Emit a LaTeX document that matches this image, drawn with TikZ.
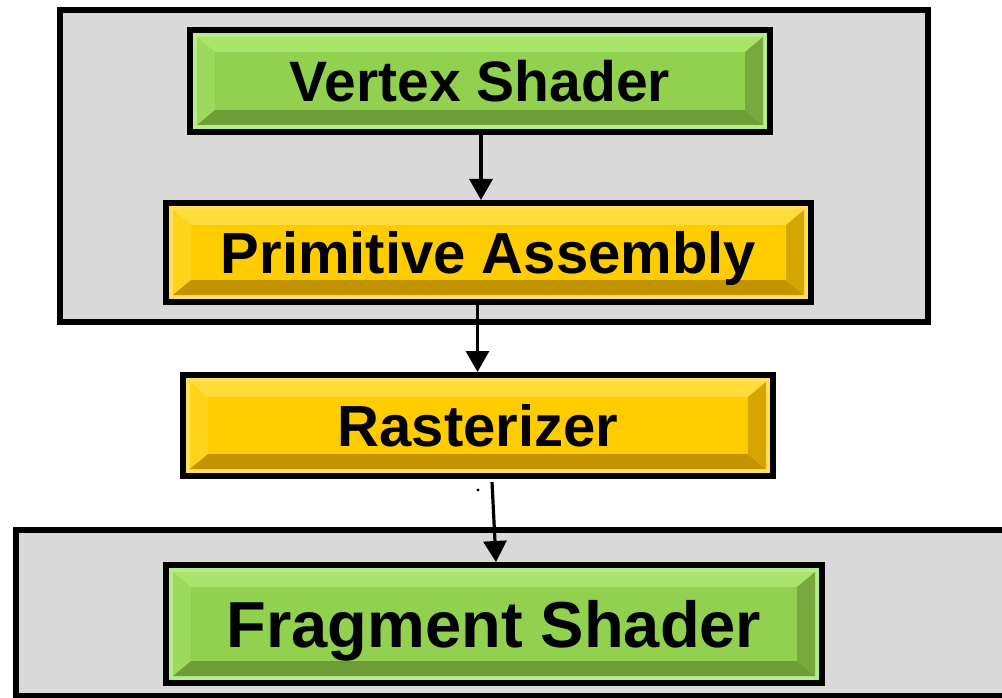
\documentclass[tikz,border=0pt]{standalone}
\usepackage{fontspec}
\setmainfont{Liberation Sans}
\usetikzlibrary{arrows.meta}
\definecolor{gbase}{HTML}{92D050}
\definecolor{grim}{HTML}{B8EC88}
\definecolor{gtop}{HTML}{A9E46C}
\definecolor{gleft}{HTML}{9CDA5C}
\definecolor{gbot}{HTML}{6E9E38}
\definecolor{gright}{HTML}{78A83E}
\definecolor{ybase}{HTML}{FFCC00}
\definecolor{yrim}{HTML}{FFE05A}
\definecolor{ytop}{HTML}{FFDC3A}
\definecolor{yleft}{HTML}{FFD21C}
\definecolor{ybot}{HTML}{C49400}
\definecolor{yright}{HTML}{D6A600}
\definecolor{panel}{HTML}{D9D9D9}
\tikzset{
  panelbox/.style={draw=black, line width=6pt, fill=panel},
  bevelbox/.style n args={6}{rectangle, draw=black, line width=6pt, fill=#2, inner sep=0pt,
    font=\bfseries, text depth=0pt,
    path picture={
      \path (path picture bounding box.north west) coordinate (pA)
            (path picture bounding box.north east) coordinate (pB)
            (path picture bounding box.south east) coordinate (pC)
            (path picture bounding box.south west) coordinate (pD);
      \fill[#3] ([shift={(7pt,-7pt)}]pA) -- ([shift={(-7pt,-7pt)}]pB) -- ([shift={(-25pt,-22pt)}]pB) -- ([shift={(25pt,-22pt)}]pA) -- cycle;
      \fill[#4] ([shift={(7pt,-7pt)}]pA) -- ([shift={(25pt,-22pt)}]pA) -- ([shift={(25pt,22pt)}]pD) -- ([shift={(7pt,7pt)}]pD) -- cycle;
      \fill[#5] ([shift={(7pt,7pt)}]pD) -- ([shift={(25pt,22pt)}]pD) -- ([shift={(-25pt,22pt)}]pC) -- ([shift={(-7pt,7pt)}]pC) -- cycle;
      \fill[#6] ([shift={(-7pt,-7pt)}]pB) -- ([shift={(-7pt,7pt)}]pC) -- ([shift={(-25pt,22pt)}]pC) -- ([shift={(-25pt,-22pt)}]pB) -- cycle;
      \fill[#1] ([shift={(25pt,-22pt)}]pA) rectangle ([shift={(-25pt,22pt)}]pC);
    }},
  greenbox/.style={bevelbox={gbase}{grim}{gtop}{gleft}{gbot}{gright}},
  yellowbox/.style={bevelbox={ybase}{yrim}{ytop}{yleft}{ybot}{yright}},
  arr/.style={line width=3.2pt, -{Triangle[width=23pt,length=21pt]}}
}
\begin{document}
\begin{tikzpicture}[x=1pt,y=-1pt]
\useasboundingbox (0,0) rectangle (1002,698);
\begin{scope}
\clip (0,0) rectangle (1002,698);
\draw[panelbox] (60,10) rectangle (928,322);
\draw[panelbox] (16,530) rectangle (1005,696);
\end{scope}
\node[greenbox, minimum width=580pt, minimum height=102pt] (vs) at (480,81)
  {\fontsize{57}{60}\selectfont Vertex Shader};
\node[yellowbox, minimum width=645pt, minimum height=99pt] (pa) at (488.5,252.5)
  {\fontsize{58}{60}\selectfont Primitive Assembly};
\node[yellowbox, minimum width=590pt, minimum height=101pt] (rz) at (478,425.5)
  {\fontsize{58}{60}\selectfont Rasterizer};
\node[greenbox, minimum width=656pt, minimum height=118pt] (fs) at (494,624)
  {\fontsize{65}{68}\selectfont Fragment Shader};
\coordinate (a1) at (481,0);
\coordinate (a2) at (477.5,0);
\coordinate (a3s) at (492,0);
\coordinate (a3e) at (496,0);
\draw[arr] (a1 |- vs.south) -- (a1 |- pa.north);
\draw[arr] (a2 |- pa.south) -- (a2 |- rz.north);
\draw[arr] ([yshift=-3pt]a3s |- rz.south) -- (a3e |- fs.north);
\fill (478,490) circle (1.6pt);
\end{tikzpicture}
\end{document}
